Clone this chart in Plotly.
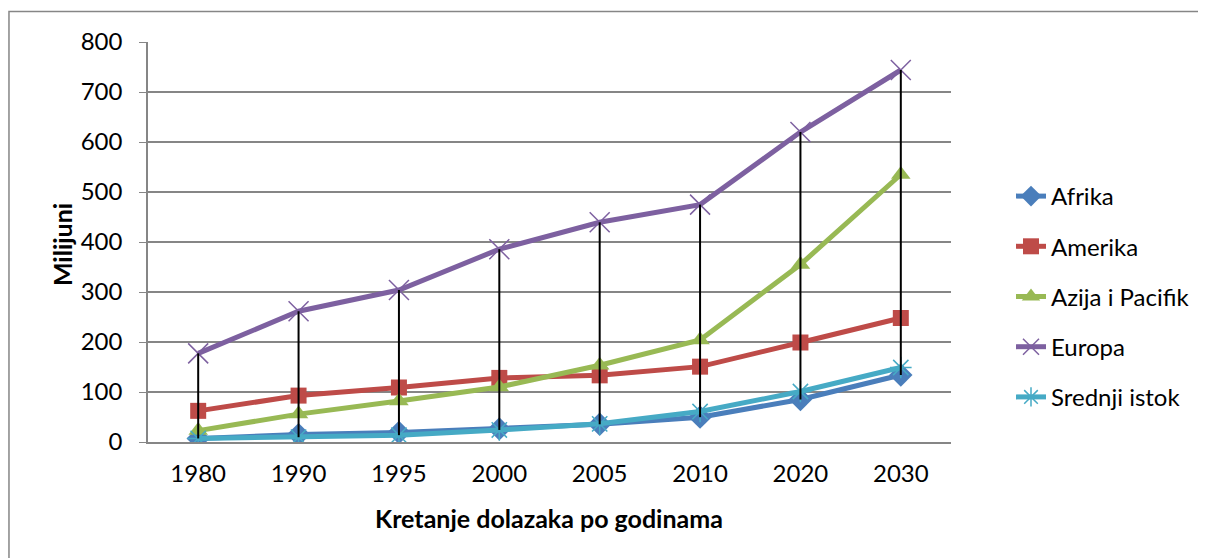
"""Kretanje dolazaka turista po regijama (milijuni), 1980-2030."""

import plotly.graph_objects as go

YEARS = ["1980", "1990", "1995", "2000", "2005", "2010", "2020", "2030"]
AFRIKA = [7.2, 14.8, 18.9, 26.2, 35.4, 49.7, 85, 134]
AMERIKA = [62.3, 92.8, 109.0, 128.2, 133.3, 150.7, 199, 248]
AZIJA = [22.8, 55.8, 82.0, 110.1, 153.6, 204.0, 355, 535]
EUROPA = [177.3, 261.5, 304.0, 385.6, 439.4, 474.8, 620, 744]
SREDNJI = [7.1, 9.6, 13.7, 24.1, 36.3, 60.9, 101, 149]

FONT = "Lato"
GRID = "#868686"

# name, values, colour, marker symbol, marker size, marker line width
SERIES = [
    ("Afrika", AFRIKA, "#4A7EBB", "diamond", 18, 0),
    ("Amerika", AMERIKA, "#BE4B48", "square", 16, 0),
    ("Azija i Pacifik", AZIJA, "#98B954", "triangle-up", 17, 0),
    ("Europa", EUROPA, "#7D60A0", "x-thin-open", 20, 1.5),
    ("Srednji istok", SREDNJI, "#46AAC5", "asterisk-open", 18, 1.5),
]

# the page body has an 8px margin, so the figure sits at (8, 8)
OFF = 8

fig = go.Figure()
for i, (name, vals, color, sym, size, mlw) in enumerate(SERIES):
    fig.add_trace(
        go.Scatter(
            x=YEARS,
            y=vals,
            name=name,
            mode="lines+markers",
            line={"color": color, "width": 5},
            marker={
                "symbol": sym,
                "size": size,
                "color": color,
                "line": {"color": color, "width": mlw},
            },
            legendgroup=f"g{i}",
        )
    )

# high-low lines: from the lowest to the highest series at each year
all_vals = [s[1] for s in SERIES]
hl_x, hl_y = [], []
for j, yr in enumerate(YEARS):
    col = [v[j] for v in all_vals]
    hl_x += [yr, yr, None]
    hl_y += [min(col), max(col), None]
fig.add_trace(
    go.Scatter(
        x=hl_x,
        y=hl_y,
        mode="lines",
        line={"color": "black", "width": 2},
        showlegend=False,
        hoverinfo="skip",
    )
)

# chart border (Excel chart area)
fig.add_shape(
    type="rect",
    xref="paper",
    yref="paper",
    x0=(8.8 - 148) / 804,
    x1=(1230 - 148) / 804,
    y0=(442 - 590) / 400,
    y1=(442 - 11.5) / 400,
    line={"color": GRID, "width": 1.5},
    layer="below",
)

fig.add_annotation(
    text="<b>Kretanje dolazaka po godinama</b>",
    xref="paper",
    yref="paper",
    x=(549 - 148) / 804,
    y=(442 - 518) / 400,
    xanchor="center",
    yanchor="middle",
    showarrow=False,
    font={"family": FONT, "size": 25, "color": "black"},
)
fig.add_annotation(
    text="<b>Milijuni</b>",
    xref="paper",
    yref="paper",
    x=(62 - 148) / 804,
    y=(442 - 245) / 400,
    xanchor="center",
    yanchor="middle",
    textangle=-90,
    showarrow=False,
    font={"family": FONT, "size": 25, "color": "black"},
)

fig.update_layout(
    width=1206 - OFF,
    height=558 - OFF,
    margin={"l": 148 - OFF, "r": 254, "t": 42 - OFF, "b": 116},
    paper_bgcolor="white",
    plot_bgcolor="white",
    font={"family": FONT, "size": 24, "color": "black"},
    showlegend=True,
    legend={
        "x": (1011 - 148) / 804,
        "xanchor": "left",
        "y": (442 - 174) / 400,
        "yanchor": "top",
        "tracegroupgap": 16,
        "font": {"family": FONT, "size": 24},
        "bgcolor": "rgba(0,0,0,0)",
    },
    xaxis={
        "type": "category",
        "range": [-0.5, 7.5],
        "showgrid": False,
        "showline": True,
        "linecolor": GRID,
        "linewidth": 2,
        "ticks": "",
        "ticklabelstandoff": 9,
        "zeroline": False,
        "fixedrange": True,
    },
    yaxis={
        "range": [0, 800],
        "dtick": 100,
        "showgrid": True,
        "gridcolor": GRID,
        "gridwidth": 1.5,
        "showline": True,
        "linecolor": GRID,
        "linewidth": 1.5,
        "ticks": "outside",
        "ticklen": 7,
        "tickcolor": GRID,
        "ticklabelstandoff": 12,
        "zeroline": False,
        "fixedrange": True,
    },
)

fig.write_html("out.html")
